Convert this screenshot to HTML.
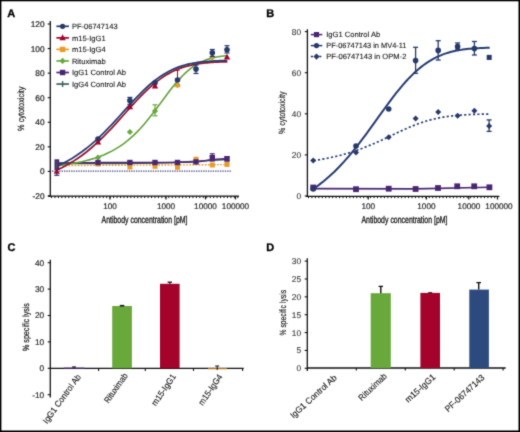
<!DOCTYPE html>
<html><head><meta charset="utf-8"><style>
html,body{margin:0;padding:0;background:#fff;width:520px;height:432px;overflow:hidden}
svg{display:block}
text{font-family:"Liberation Sans",sans-serif;text-rendering:geometricPrecision}
</style></head><body>
<svg width="520" height="432" viewBox="0 0 520 432" font-family="Liberation Sans, sans-serif">
<defs><filter id="soft" x="0" y="0" width="520" height="432" filterUnits="userSpaceOnUse" color-interpolation-filters="sRGB"><feConvolveMatrix order="3" kernelMatrix="0.025 0.09 0.025 0.09 0.54 0.09 0.025 0.09 0.025" edgeMode="duplicate"/></filter></defs>
<rect width="520" height="432" fill="#fff"/>
<g filter="url(#soft)">
<rect width="520" height="432" fill="#fff"/>
<rect x="0" y="0" width="520" height="1.3" fill="#000"/>
<rect x="0" y="0" width="1.4" height="432" fill="#000"/>
<rect x="518.5" y="0" width="1.5" height="432" fill="#000"/>
<rect x="0" y="430.5" width="520" height="1.5" fill="#000"/>
<text x="7.20" y="17.00" font-size="11.00" text-anchor="start" fill="#000" font-weight="bold" stroke="#000" stroke-width="0.3">A</text>
<text x="266.30" y="17.40" font-size="11.00" text-anchor="start" fill="#000" font-weight="bold" stroke="#000" stroke-width="0.3">B</text>
<text x="7.40" y="251.10" font-size="11.00" text-anchor="start" fill="#000" font-weight="bold" stroke="#000" stroke-width="0.3">C</text>
<text x="266.30" y="250.90" font-size="11.00" text-anchor="start" fill="#000" font-weight="bold" stroke="#000" stroke-width="0.3">D</text>
<line x1="50.30" y1="21.00" x2="50.30" y2="196.50" stroke="#111" stroke-width="1.30" />
<line x1="47.70" y1="24.00" x2="50.30" y2="24.00" stroke="#111" stroke-width="1.10" />
<text x="44.50" y="26.95" font-size="8.30" text-anchor="end" fill="#262626" font-weight="normal" stroke="#262626" stroke-width="0.22">120</text>
<line x1="47.70" y1="48.57" x2="50.30" y2="48.57" stroke="#111" stroke-width="1.10" />
<text x="44.50" y="51.52" font-size="8.30" text-anchor="end" fill="#262626" font-weight="normal" stroke="#262626" stroke-width="0.22">100</text>
<line x1="47.70" y1="73.14" x2="50.30" y2="73.14" stroke="#111" stroke-width="1.10" />
<text x="44.50" y="76.09" font-size="8.30" text-anchor="end" fill="#262626" font-weight="normal" stroke="#262626" stroke-width="0.22">80</text>
<line x1="47.70" y1="97.70" x2="50.30" y2="97.70" stroke="#111" stroke-width="1.10" />
<text x="44.50" y="100.65" font-size="8.30" text-anchor="end" fill="#262626" font-weight="normal" stroke="#262626" stroke-width="0.22">60</text>
<line x1="47.70" y1="122.27" x2="50.30" y2="122.27" stroke="#111" stroke-width="1.10" />
<text x="44.50" y="125.22" font-size="8.30" text-anchor="end" fill="#262626" font-weight="normal" stroke="#262626" stroke-width="0.22">40</text>
<line x1="47.70" y1="146.83" x2="50.30" y2="146.83" stroke="#111" stroke-width="1.10" />
<text x="44.50" y="149.78" font-size="8.30" text-anchor="end" fill="#262626" font-weight="normal" stroke="#262626" stroke-width="0.22">20</text>
<line x1="47.70" y1="171.40" x2="50.30" y2="171.40" stroke="#111" stroke-width="1.10" />
<text x="44.50" y="174.35" font-size="8.30" text-anchor="end" fill="#262626" font-weight="normal" stroke="#262626" stroke-width="0.22">0</text>
<line x1="47.70" y1="195.97" x2="50.30" y2="195.97" stroke="#111" stroke-width="1.10" />
<text x="44.50" y="198.92" font-size="8.30" text-anchor="end" fill="#262626" font-weight="normal" stroke="#262626" stroke-width="0.22">-20</text>
<line x1="48.00" y1="196.20" x2="239.00" y2="196.20" stroke="#111" stroke-width="1.30" />
<line x1="110.00" y1="196.20" x2="110.00" y2="199.40" stroke="#111" stroke-width="1.20" />
<line x1="166.00" y1="196.20" x2="166.00" y2="199.40" stroke="#111" stroke-width="1.20" />
<line x1="205.50" y1="196.20" x2="205.50" y2="199.40" stroke="#111" stroke-width="1.20" />
<line x1="235.50" y1="196.20" x2="235.50" y2="199.40" stroke="#111" stroke-width="1.20" />
<line x1="51.50" y1="196.20" x2="51.50" y2="198.10" stroke="#111" stroke-width="1.00" />
<line x1="54.95" y1="196.20" x2="54.95" y2="198.10" stroke="#111" stroke-width="1.00" />
<line x1="58.40" y1="196.20" x2="58.40" y2="198.10" stroke="#111" stroke-width="1.00" />
<line x1="61.85" y1="196.20" x2="61.85" y2="198.10" stroke="#111" stroke-width="1.00" />
<line x1="65.30" y1="196.20" x2="65.30" y2="198.10" stroke="#111" stroke-width="1.00" />
<line x1="68.75" y1="196.20" x2="68.75" y2="198.10" stroke="#111" stroke-width="1.00" />
<line x1="72.20" y1="196.20" x2="72.20" y2="198.10" stroke="#111" stroke-width="1.00" />
<line x1="75.65" y1="196.20" x2="75.65" y2="198.10" stroke="#111" stroke-width="1.00" />
<line x1="79.10" y1="196.20" x2="79.10" y2="198.10" stroke="#111" stroke-width="1.00" />
<line x1="82.55" y1="196.20" x2="82.55" y2="198.10" stroke="#111" stroke-width="1.00" />
<line x1="86.00" y1="196.20" x2="86.00" y2="198.10" stroke="#111" stroke-width="1.00" />
<line x1="89.45" y1="196.20" x2="89.45" y2="198.10" stroke="#111" stroke-width="1.00" />
<line x1="92.90" y1="196.20" x2="92.90" y2="198.10" stroke="#111" stroke-width="1.00" />
<line x1="96.35" y1="196.20" x2="96.35" y2="198.10" stroke="#111" stroke-width="1.00" />
<line x1="99.80" y1="196.20" x2="99.80" y2="198.10" stroke="#111" stroke-width="1.00" />
<line x1="103.25" y1="196.20" x2="103.25" y2="198.10" stroke="#111" stroke-width="1.00" />
<line x1="106.70" y1="196.20" x2="106.70" y2="198.10" stroke="#111" stroke-width="1.00" />
<line x1="110.15" y1="196.20" x2="110.15" y2="198.10" stroke="#111" stroke-width="1.00" />
<line x1="113.60" y1="196.20" x2="113.60" y2="198.10" stroke="#111" stroke-width="1.00" />
<line x1="117.05" y1="196.20" x2="117.05" y2="198.10" stroke="#111" stroke-width="1.00" />
<line x1="120.50" y1="196.20" x2="120.50" y2="198.10" stroke="#111" stroke-width="1.00" />
<line x1="123.95" y1="196.20" x2="123.95" y2="198.10" stroke="#111" stroke-width="1.00" />
<line x1="127.40" y1="196.20" x2="127.40" y2="198.10" stroke="#111" stroke-width="1.00" />
<line x1="130.85" y1="196.20" x2="130.85" y2="198.10" stroke="#111" stroke-width="1.00" />
<line x1="134.30" y1="196.20" x2="134.30" y2="198.10" stroke="#111" stroke-width="1.00" />
<line x1="137.75" y1="196.20" x2="137.75" y2="198.10" stroke="#111" stroke-width="1.00" />
<line x1="141.20" y1="196.20" x2="141.20" y2="198.10" stroke="#111" stroke-width="1.00" />
<line x1="144.65" y1="196.20" x2="144.65" y2="198.10" stroke="#111" stroke-width="1.00" />
<line x1="148.10" y1="196.20" x2="148.10" y2="198.10" stroke="#111" stroke-width="1.00" />
<line x1="151.55" y1="196.20" x2="151.55" y2="198.10" stroke="#111" stroke-width="1.00" />
<line x1="155.00" y1="196.20" x2="155.00" y2="198.10" stroke="#111" stroke-width="1.00" />
<line x1="158.45" y1="196.20" x2="158.45" y2="198.10" stroke="#111" stroke-width="1.00" />
<line x1="161.90" y1="196.20" x2="161.90" y2="198.10" stroke="#111" stroke-width="1.00" />
<line x1="165.35" y1="196.20" x2="165.35" y2="198.10" stroke="#111" stroke-width="1.00" />
<line x1="168.80" y1="196.20" x2="168.80" y2="198.10" stroke="#111" stroke-width="1.00" />
<line x1="172.25" y1="196.20" x2="172.25" y2="198.10" stroke="#111" stroke-width="1.00" />
<line x1="175.70" y1="196.20" x2="175.70" y2="198.10" stroke="#111" stroke-width="1.00" />
<line x1="179.15" y1="196.20" x2="179.15" y2="198.10" stroke="#111" stroke-width="1.00" />
<line x1="182.60" y1="196.20" x2="182.60" y2="198.10" stroke="#111" stroke-width="1.00" />
<line x1="186.05" y1="196.20" x2="186.05" y2="198.10" stroke="#111" stroke-width="1.00" />
<line x1="189.50" y1="196.20" x2="189.50" y2="198.10" stroke="#111" stroke-width="1.00" />
<line x1="192.95" y1="196.20" x2="192.95" y2="198.10" stroke="#111" stroke-width="1.00" />
<line x1="196.40" y1="196.20" x2="196.40" y2="198.10" stroke="#111" stroke-width="1.00" />
<line x1="199.85" y1="196.20" x2="199.85" y2="198.10" stroke="#111" stroke-width="1.00" />
<line x1="203.30" y1="196.20" x2="203.30" y2="198.10" stroke="#111" stroke-width="1.00" />
<line x1="206.75" y1="196.20" x2="206.75" y2="198.10" stroke="#111" stroke-width="1.00" />
<line x1="210.20" y1="196.20" x2="210.20" y2="198.10" stroke="#111" stroke-width="1.00" />
<line x1="213.65" y1="196.20" x2="213.65" y2="198.10" stroke="#111" stroke-width="1.00" />
<line x1="217.10" y1="196.20" x2="217.10" y2="198.10" stroke="#111" stroke-width="1.00" />
<line x1="220.55" y1="196.20" x2="220.55" y2="198.10" stroke="#111" stroke-width="1.00" />
<line x1="224.00" y1="196.20" x2="224.00" y2="198.10" stroke="#111" stroke-width="1.00" />
<line x1="227.45" y1="196.20" x2="227.45" y2="198.10" stroke="#111" stroke-width="1.00" />
<line x1="230.90" y1="196.20" x2="230.90" y2="198.10" stroke="#111" stroke-width="1.00" />
<line x1="234.35" y1="196.20" x2="234.35" y2="198.10" stroke="#111" stroke-width="1.00" />
<line x1="237.80" y1="196.20" x2="237.80" y2="198.10" stroke="#111" stroke-width="1.00" />
<text x="110.00" y="209.10" font-size="8.20" text-anchor="middle" fill="#2a2a2a" font-weight="normal" stroke="#2a2a2a" stroke-width="0.2">100</text>
<text x="166.00" y="209.10" font-size="8.20" text-anchor="middle" fill="#2a2a2a" font-weight="normal" stroke="#2a2a2a" stroke-width="0.2">1000</text>
<text x="205.50" y="209.10" font-size="8.20" text-anchor="middle" fill="#2a2a2a" font-weight="normal" stroke="#2a2a2a" stroke-width="0.2">10000</text>
<text x="235.50" y="209.10" font-size="8.20" text-anchor="middle" fill="#2a2a2a" font-weight="normal" stroke="#2a2a2a" stroke-width="0.2">100000</text>
<line x1="52" y1="171.2" x2="232" y2="171.2" stroke="#3a3f78" stroke-width="1.3" stroke-dasharray="1.3 1.1"/>
<path d="M56 165.6 L228 164.6" stroke="#e99b25" stroke-width="1.4" fill="none" stroke-dasharray="1.7 1.4"/>
<path d="M56.70 163.50 C73.08 163.42 126.62 163.67 155.00 163.00 C183.38 162.33 215.00 160.08 227.00 159.50" stroke="#3a5e5b" stroke-width="1.3" fill="none"/>
<path d="M56.70 163.00 C63.58 162.93 81.62 162.68 98.00 162.60 C114.38 162.52 141.67 162.53 155.00 162.50 C168.33 162.47 171.17 162.52 178.00 162.40 C184.83 162.28 190.33 162.23 196.00 161.80 C201.67 161.37 206.83 160.33 212.00 159.80 C217.17 159.27 224.50 158.80 227.00 158.60" stroke="#4a2672" stroke-width="1.5" fill="none"/>
<path d="M57.14 165.58 L62.32 164.96 L67.39 164.28 L72.33 163.50 L77.15 162.63 L81.86 161.66 L86.46 160.58 L90.94 159.37 L95.31 158.02 L99.58 156.53 L103.74 154.89 L107.80 153.08 L111.76 151.10 L115.63 148.93 L119.39 146.58 L123.07 144.04 L126.65 141.32 L130.15 138.41 L133.56 135.33 L136.88 132.08 L140.13 128.68 L143.29 125.16 L146.38 121.54 L149.39 117.83 L152.33 114.09 L155.20 110.32 L158.00 106.57 L160.73 102.87 L163.41 99.25 L166.02 95.73 L168.57 92.34 L171.06 89.09 L173.51 86.01 L175.90 83.11 L178.24 80.39 L180.53 77.86 L182.78 75.51 L184.98 73.35 L187.15 71.37 L189.27 69.56 L191.36 67.92 L193.42 66.44 L195.44 65.10 L197.44 63.89 L199.41 62.81 L201.36 61.84 L203.28 60.97 L205.18 60.20 L207.07 59.51 L208.94 58.90 L210.79 58.36 L212.64 57.88 L214.48 57.46 L216.31 57.08 L218.14 56.75 L219.96 56.46 L221.79 56.20 L223.62 55.97 L225.45 55.77 L227.30 55.59" stroke="#62a03a" stroke-width="1.6" fill="none"/>
<path d="M57.14 169.98 L62.32 167.48 L67.39 164.78 L72.33 161.87 L77.15 158.76 L81.86 155.45 L86.46 151.94 L90.94 148.26 L95.31 144.42 L99.58 140.45 L103.74 136.38 L107.80 132.22 L111.76 128.03 L115.63 123.82 L119.39 119.65 L123.07 115.53 L126.65 111.50 L130.15 107.59 L133.56 103.83 L136.88 100.23 L140.13 96.82 L143.29 93.60 L146.38 90.59 L149.39 87.78 L152.33 85.18 L155.20 82.79 L158.00 80.59 L160.73 78.59 L163.41 76.76 L166.02 75.11 L168.57 73.62 L171.06 72.27 L173.51 71.06 L175.90 69.98 L178.24 69.01 L180.53 68.14 L182.78 67.37 L184.98 66.69 L187.15 66.08 L189.27 65.54 L191.36 65.06 L193.42 64.63 L195.44 64.26 L197.44 63.92 L199.41 63.63 L201.36 63.37 L203.28 63.14 L205.18 62.94 L207.07 62.76 L208.94 62.60 L210.79 62.47 L212.64 62.34 L214.48 62.24 L216.31 62.14 L218.14 62.06 L219.96 61.98 L221.79 61.92 L223.62 61.86 L225.45 61.81 L227.30 61.77" stroke="#951532" stroke-width="1.75" fill="none"/>
<path d="M57.14 166.17 L62.32 163.71 L67.39 161.04 L72.33 158.17 L77.15 155.08 L81.86 151.80 L86.46 148.32 L90.94 144.66 L95.31 140.85 L99.58 136.90 L103.74 132.85 L107.80 128.72 L111.76 124.55 L115.63 120.38 L119.39 116.24 L123.07 112.17 L126.65 108.20 L130.15 104.35 L133.56 100.65 L136.88 97.13 L140.13 93.80 L143.29 90.66 L146.38 87.74 L149.39 85.02 L152.33 82.52 L155.20 80.21 L158.00 78.11 L160.73 76.20 L163.41 74.46 L166.02 72.89 L168.57 71.48 L171.06 70.21 L173.51 69.08 L175.90 68.07 L178.24 67.16 L180.53 66.36 L182.78 65.64 L184.98 65.01 L187.15 64.45 L189.27 63.95 L191.36 63.51 L193.42 63.12 L195.44 62.78 L197.44 62.48 L199.41 62.21 L201.36 61.98 L203.28 61.77 L205.18 61.59 L207.07 61.43 L208.94 61.29 L210.79 61.17 L212.64 61.06 L214.48 60.97 L216.31 60.88 L218.14 60.81 L219.96 60.74 L221.79 60.69 L223.62 60.64 L225.45 60.59 L227.30 60.56" stroke="#263d72" stroke-width="1.75" fill="none"/>
<line x1="56.80" y1="160.00" x2="56.80" y2="175.30" stroke="#4a2672" stroke-width="1.20" />
<line x1="54.30" y1="175.30" x2="59.30" y2="175.30" stroke="#26396b" stroke-width="1.20" />
<rect x="54.5" y="159.3" width="4.7" height="10.7" fill="#4a2672"/>
<line x1="56.80" y1="161.00" x2="56.80" y2="169.00" stroke="#3a5e5b" stroke-width="1.20" />
<path d="M56.80 168.24 L59.88 173.84 L53.72 173.84 Z" fill="#a4032c"/>
<circle cx="98.00" cy="139.00" r="2.80" fill="#26396b"/>
<path d="M98.00 138.82 L101.19 144.62 L94.81 144.62 Z" fill="#a4032c"/>
<path d="M98.00 154.40 L101.10 157.50 L98.00 160.60 L94.90 157.50 Z" fill="#69a83b"/>
<rect x="95.50" y="161.50" width="5.00" height="5.00" fill="#e99b25"/>
<rect x="95.30" y="159.80" width="5.40" height="5.40" fill="#4a2672"/>
<line x1="129.90" y1="97.40" x2="129.90" y2="104.30" stroke="#26396b" stroke-width="1.20" />
<line x1="127.40" y1="97.40" x2="132.40" y2="97.40" stroke="#26396b" stroke-width="1.20" />
<line x1="127.40" y1="104.30" x2="132.40" y2="104.30" stroke="#26396b" stroke-width="1.20" />
<circle cx="129.90" cy="100.60" r="2.80" fill="#26396b"/>
<path d="M129.90 103.52 L133.09 109.32 L126.71 109.32 Z" fill="#a4032c"/>
<path d="M129.90 128.90 L133.00 132.00 L129.90 135.10 L126.80 132.00 Z" fill="#69a83b"/>
<rect x="127.40" y="164.50" width="5.00" height="5.00" fill="#e99b25"/>
<rect x="127.20" y="159.80" width="5.40" height="5.40" fill="#4a2672"/>
<circle cx="155.00" cy="82.80" r="2.80" fill="#26396b"/>
<path d="M155.00 82.82 L158.19 88.62 L151.81 88.62 Z" fill="#a4032c"/>
<line x1="155.00" y1="104.80" x2="155.00" y2="115.80" stroke="#69a83b" stroke-width="1.20" />
<line x1="152.50" y1="104.80" x2="157.50" y2="104.80" stroke="#69a83b" stroke-width="1.20" />
<line x1="152.50" y1="115.80" x2="157.50" y2="115.80" stroke="#69a83b" stroke-width="1.20" />
<path d="M155.00 107.90 L158.10 111.00 L155.00 114.10 L151.90 111.00 Z" fill="#69a83b"/>
<rect x="152.50" y="163.80" width="5.00" height="5.00" fill="#e99b25"/>
<rect x="152.30" y="159.80" width="5.40" height="5.40" fill="#4a2672"/>
<line x1="177.50" y1="70.20" x2="177.50" y2="80.00" stroke="#a4032c" stroke-width="1.00" />
<line x1="175.30" y1="70.20" x2="179.70" y2="70.20" stroke="#a4032c" stroke-width="1.00" />
<path d="M177.50 81.90 L180.60 85.00 L177.50 88.10 L174.40 85.00 Z" fill="#69a83b"/>
<path d="M177.50 81.52 L180.69 87.32 L174.31 87.32 Z" fill="#e99b25"/>
<circle cx="177.50" cy="80.00" r="2.80" fill="#26396b"/>
<rect x="175.00" y="164.80" width="5.00" height="5.00" fill="#e99b25"/>
<rect x="174.80" y="159.80" width="5.40" height="5.40" fill="#4a2672"/>
<line x1="196.00" y1="65.00" x2="196.00" y2="73.50" stroke="#26396b" stroke-width="1.20" />
<line x1="193.50" y1="65.00" x2="198.50" y2="65.00" stroke="#26396b" stroke-width="1.20" />
<line x1="193.50" y1="73.50" x2="198.50" y2="73.50" stroke="#26396b" stroke-width="1.20" />
<circle cx="196.00" cy="69.10" r="2.80" fill="#26396b"/>
<rect x="193.50" y="156.70" width="5.00" height="5.00" fill="#e99b25"/>
<rect x="193.30" y="159.20" width="5.40" height="5.40" fill="#4a2672"/>
<path d="M212.30 54.20 L215.40 57.30 L212.30 60.40 L209.20 57.30 Z" fill="#69a83b"/>
<rect x="210.55" y="55.55" width="3.50" height="3.50" fill="#e99b25"/>
<line x1="212.30" y1="49.50" x2="212.30" y2="56.50" stroke="#26396b" stroke-width="1.20" />
<line x1="209.80" y1="49.50" x2="214.80" y2="49.50" stroke="#26396b" stroke-width="1.20" />
<line x1="209.80" y1="56.50" x2="214.80" y2="56.50" stroke="#26396b" stroke-width="1.20" />
<circle cx="212.30" cy="52.70" r="2.80" fill="#26396b"/>
<rect x="209.80" y="162.50" width="5.00" height="5.00" fill="#e99b25"/>
<line x1="212.30" y1="153.80" x2="212.30" y2="161.00" stroke="#4a2672" stroke-width="1.20" />
<line x1="209.80" y1="153.80" x2="214.80" y2="153.80" stroke="#4a2672" stroke-width="1.20" />
<line x1="209.80" y1="161.00" x2="214.80" y2="161.00" stroke="#4a2672" stroke-width="1.20" />
<rect x="209.60" y="155.00" width="5.40" height="5.40" fill="#4a2672"/>
<path d="M227.00 53.72 L230.19 59.52 L223.81 59.52 Z" fill="#a4032c"/>
<line x1="227.00" y1="45.70" x2="227.00" y2="53.00" stroke="#26396b" stroke-width="1.20" />
<line x1="224.50" y1="45.70" x2="229.50" y2="45.70" stroke="#26396b" stroke-width="1.20" />
<line x1="224.50" y1="53.00" x2="229.50" y2="53.00" stroke="#26396b" stroke-width="1.20" />
<circle cx="227.00" cy="49.80" r="2.80" fill="#26396b"/>
<rect x="224.50" y="161.90" width="5.00" height="5.00" fill="#e99b25"/>
<line x1="227.00" y1="156.70" x2="227.00" y2="161.00" stroke="#4a2672" stroke-width="1.20" />
<line x1="224.50" y1="156.70" x2="229.50" y2="156.70" stroke="#4a2672" stroke-width="1.20" />
<line x1="224.50" y1="161.00" x2="229.50" y2="161.00" stroke="#4a2672" stroke-width="1.20" />
<rect x="224.30" y="156.00" width="5.40" height="5.40" fill="#4a2672"/>
<line x1="56.40" y1="26.30" x2="68.90" y2="26.30" stroke="#26396b" stroke-width="1.70" />
<circle cx="62.60" cy="26.30" r="2.60" fill="#26396b"/>
<text x="71.90" y="29.10" font-size="7.60" text-anchor="start" fill="#1a1a1a" font-weight="normal" textLength="45.7" lengthAdjust="spacingAndGlyphs" stroke="#1a1a1a" stroke-width="0.12">PF-06747143</text>
<line x1="56.40" y1="37.85" x2="68.90" y2="37.85" stroke="#a4032c" stroke-width="1.70" />
<path d="M62.60 34.37 L65.79 40.17 L59.41 40.17 Z" fill="#a4032c"/>
<text x="71.90" y="40.65" font-size="7.60" text-anchor="start" fill="#1a1a1a" font-weight="normal" stroke="#1a1a1a" stroke-width="0.12">m15-IgG1</text>
<line x1="56.40" y1="49.40" x2="68.90" y2="49.40" stroke="#e99b25" stroke-width="1.70" />
<rect x="59.90" y="46.70" width="5.40" height="5.40" fill="#e99b25"/>
<text x="71.90" y="52.20" font-size="7.60" text-anchor="start" fill="#1a1a1a" font-weight="normal" stroke="#1a1a1a" stroke-width="0.12">m15-IgG4</text>
<line x1="56.40" y1="60.95" x2="68.90" y2="60.95" stroke="#69a83b" stroke-width="1.70" />
<path d="M62.60 57.85 L65.70 60.95 L62.60 64.05 L59.50 60.95 Z" fill="#69a83b"/>
<text x="71.90" y="63.75" font-size="7.60" text-anchor="start" fill="#1a1a1a" font-weight="normal" stroke="#1a1a1a" stroke-width="0.12">Rituximab</text>
<line x1="56.40" y1="72.50" x2="68.90" y2="72.50" stroke="#4a2672" stroke-width="1.70" />
<rect x="59.90" y="69.80" width="5.40" height="5.40" fill="#4a2672"/>
<text x="71.90" y="75.30" font-size="7.60" text-anchor="start" fill="#1a1a1a" font-weight="normal" stroke="#1a1a1a" stroke-width="0.12">IgG1 Control Ab</text>
<line x1="56.40" y1="84.05" x2="68.90" y2="84.05" stroke="#3a5e5b" stroke-width="1.70" />
<line x1="62.60" y1="81.05" x2="62.60" y2="87.05" stroke="#3a5e5b" stroke-width="1.40" />
<text x="71.90" y="86.85" font-size="7.60" text-anchor="start" fill="#1a1a1a" font-weight="normal" stroke="#1a1a1a" stroke-width="0.12">IgG4 Control Ab</text>
<line x1="307.40" y1="29.20" x2="307.40" y2="196.80" stroke="#111" stroke-width="1.30" />
<line x1="304.80" y1="31.60" x2="307.40" y2="31.60" stroke="#111" stroke-width="1.10" />
<text x="301.00" y="34.55" font-size="8.30" text-anchor="end" fill="#333" font-weight="normal" stroke="#333" stroke-width="0.10">80</text>
<line x1="304.80" y1="72.70" x2="307.40" y2="72.70" stroke="#111" stroke-width="1.10" />
<text x="301.00" y="75.65" font-size="8.30" text-anchor="end" fill="#333" font-weight="normal" stroke="#333" stroke-width="0.10">60</text>
<line x1="304.80" y1="113.80" x2="307.40" y2="113.80" stroke="#111" stroke-width="1.10" />
<text x="301.00" y="116.75" font-size="8.30" text-anchor="end" fill="#333" font-weight="normal" stroke="#333" stroke-width="0.10">40</text>
<line x1="304.80" y1="154.90" x2="307.40" y2="154.90" stroke="#111" stroke-width="1.10" />
<text x="301.00" y="157.85" font-size="8.30" text-anchor="end" fill="#333" font-weight="normal" stroke="#333" stroke-width="0.10">20</text>
<line x1="304.80" y1="196.00" x2="307.40" y2="196.00" stroke="#111" stroke-width="1.10" />
<text x="301.00" y="198.95" font-size="8.30" text-anchor="end" fill="#333" font-weight="normal" stroke="#333" stroke-width="0.10">0</text>
<line x1="306.00" y1="196.30" x2="499.40" y2="196.30" stroke="#111" stroke-width="1.30" />
<line x1="368.30" y1="196.30" x2="368.30" y2="199.50" stroke="#111" stroke-width="1.20" />
<line x1="426.40" y1="196.30" x2="426.40" y2="199.50" stroke="#111" stroke-width="1.20" />
<line x1="468.80" y1="196.30" x2="468.80" y2="199.50" stroke="#111" stroke-width="1.20" />
<line x1="497.50" y1="196.30" x2="497.50" y2="199.50" stroke="#111" stroke-width="1.20" />
<line x1="308.50" y1="196.30" x2="308.50" y2="198.20" stroke="#111" stroke-width="1.00" />
<line x1="311.95" y1="196.30" x2="311.95" y2="198.20" stroke="#111" stroke-width="1.00" />
<line x1="315.40" y1="196.30" x2="315.40" y2="198.20" stroke="#111" stroke-width="1.00" />
<line x1="318.85" y1="196.30" x2="318.85" y2="198.20" stroke="#111" stroke-width="1.00" />
<line x1="322.30" y1="196.30" x2="322.30" y2="198.20" stroke="#111" stroke-width="1.00" />
<line x1="325.75" y1="196.30" x2="325.75" y2="198.20" stroke="#111" stroke-width="1.00" />
<line x1="329.20" y1="196.30" x2="329.20" y2="198.20" stroke="#111" stroke-width="1.00" />
<line x1="332.65" y1="196.30" x2="332.65" y2="198.20" stroke="#111" stroke-width="1.00" />
<line x1="336.10" y1="196.30" x2="336.10" y2="198.20" stroke="#111" stroke-width="1.00" />
<line x1="339.55" y1="196.30" x2="339.55" y2="198.20" stroke="#111" stroke-width="1.00" />
<line x1="343.00" y1="196.30" x2="343.00" y2="198.20" stroke="#111" stroke-width="1.00" />
<line x1="346.45" y1="196.30" x2="346.45" y2="198.20" stroke="#111" stroke-width="1.00" />
<line x1="349.90" y1="196.30" x2="349.90" y2="198.20" stroke="#111" stroke-width="1.00" />
<line x1="353.35" y1="196.30" x2="353.35" y2="198.20" stroke="#111" stroke-width="1.00" />
<line x1="356.80" y1="196.30" x2="356.80" y2="198.20" stroke="#111" stroke-width="1.00" />
<line x1="360.25" y1="196.30" x2="360.25" y2="198.20" stroke="#111" stroke-width="1.00" />
<line x1="363.70" y1="196.30" x2="363.70" y2="198.20" stroke="#111" stroke-width="1.00" />
<line x1="367.15" y1="196.30" x2="367.15" y2="198.20" stroke="#111" stroke-width="1.00" />
<line x1="370.60" y1="196.30" x2="370.60" y2="198.20" stroke="#111" stroke-width="1.00" />
<line x1="374.05" y1="196.30" x2="374.05" y2="198.20" stroke="#111" stroke-width="1.00" />
<line x1="377.50" y1="196.30" x2="377.50" y2="198.20" stroke="#111" stroke-width="1.00" />
<line x1="380.95" y1="196.30" x2="380.95" y2="198.20" stroke="#111" stroke-width="1.00" />
<line x1="384.40" y1="196.30" x2="384.40" y2="198.20" stroke="#111" stroke-width="1.00" />
<line x1="387.85" y1="196.30" x2="387.85" y2="198.20" stroke="#111" stroke-width="1.00" />
<line x1="391.30" y1="196.30" x2="391.30" y2="198.20" stroke="#111" stroke-width="1.00" />
<line x1="394.75" y1="196.30" x2="394.75" y2="198.20" stroke="#111" stroke-width="1.00" />
<line x1="398.20" y1="196.30" x2="398.20" y2="198.20" stroke="#111" stroke-width="1.00" />
<line x1="401.65" y1="196.30" x2="401.65" y2="198.20" stroke="#111" stroke-width="1.00" />
<line x1="405.10" y1="196.30" x2="405.10" y2="198.20" stroke="#111" stroke-width="1.00" />
<line x1="408.55" y1="196.30" x2="408.55" y2="198.20" stroke="#111" stroke-width="1.00" />
<line x1="412.00" y1="196.30" x2="412.00" y2="198.20" stroke="#111" stroke-width="1.00" />
<line x1="415.45" y1="196.30" x2="415.45" y2="198.20" stroke="#111" stroke-width="1.00" />
<line x1="418.90" y1="196.30" x2="418.90" y2="198.20" stroke="#111" stroke-width="1.00" />
<line x1="422.35" y1="196.30" x2="422.35" y2="198.20" stroke="#111" stroke-width="1.00" />
<line x1="425.80" y1="196.30" x2="425.80" y2="198.20" stroke="#111" stroke-width="1.00" />
<line x1="429.25" y1="196.30" x2="429.25" y2="198.20" stroke="#111" stroke-width="1.00" />
<line x1="432.70" y1="196.30" x2="432.70" y2="198.20" stroke="#111" stroke-width="1.00" />
<line x1="436.15" y1="196.30" x2="436.15" y2="198.20" stroke="#111" stroke-width="1.00" />
<line x1="439.60" y1="196.30" x2="439.60" y2="198.20" stroke="#111" stroke-width="1.00" />
<line x1="443.05" y1="196.30" x2="443.05" y2="198.20" stroke="#111" stroke-width="1.00" />
<line x1="446.50" y1="196.30" x2="446.50" y2="198.20" stroke="#111" stroke-width="1.00" />
<line x1="449.95" y1="196.30" x2="449.95" y2="198.20" stroke="#111" stroke-width="1.00" />
<line x1="453.40" y1="196.30" x2="453.40" y2="198.20" stroke="#111" stroke-width="1.00" />
<line x1="456.85" y1="196.30" x2="456.85" y2="198.20" stroke="#111" stroke-width="1.00" />
<line x1="460.30" y1="196.30" x2="460.30" y2="198.20" stroke="#111" stroke-width="1.00" />
<line x1="463.75" y1="196.30" x2="463.75" y2="198.20" stroke="#111" stroke-width="1.00" />
<line x1="467.20" y1="196.30" x2="467.20" y2="198.20" stroke="#111" stroke-width="1.00" />
<line x1="470.65" y1="196.30" x2="470.65" y2="198.20" stroke="#111" stroke-width="1.00" />
<line x1="474.10" y1="196.30" x2="474.10" y2="198.20" stroke="#111" stroke-width="1.00" />
<line x1="477.55" y1="196.30" x2="477.55" y2="198.20" stroke="#111" stroke-width="1.00" />
<line x1="481.00" y1="196.30" x2="481.00" y2="198.20" stroke="#111" stroke-width="1.00" />
<line x1="484.45" y1="196.30" x2="484.45" y2="198.20" stroke="#111" stroke-width="1.00" />
<line x1="487.90" y1="196.30" x2="487.90" y2="198.20" stroke="#111" stroke-width="1.00" />
<line x1="491.35" y1="196.30" x2="491.35" y2="198.20" stroke="#111" stroke-width="1.00" />
<line x1="494.80" y1="196.30" x2="494.80" y2="198.20" stroke="#111" stroke-width="1.00" />
<text x="368.30" y="209.10" font-size="8.20" text-anchor="middle" fill="#2a2a2a" font-weight="normal" stroke="#2a2a2a" stroke-width="0.2">100</text>
<text x="426.40" y="209.10" font-size="8.20" text-anchor="middle" fill="#2a2a2a" font-weight="normal" stroke="#2a2a2a" stroke-width="0.2">1000</text>
<text x="469.00" y="209.10" font-size="8.20" text-anchor="middle" fill="#2a2a2a" font-weight="normal" stroke="#2a2a2a" stroke-width="0.2">10000</text>
<text x="499.00" y="209.10" font-size="8.20" text-anchor="middle" fill="#2a2a2a" font-weight="normal" stroke="#2a2a2a" stroke-width="0.2">100000</text>
<path d="M313.60 160.63 L318.99 159.78 L324.25 158.86 L329.38 157.85 L334.39 156.75 L339.28 155.57 L344.04 154.30 L348.70 152.95 L353.23 151.52 L357.66 150.01 L361.97 148.44 L366.18 146.80 L370.29 145.12 L374.29 143.41 L378.19 141.68 L381.99 139.93 L385.70 138.20 L389.32 136.49 L392.84 134.81 L396.28 133.18 L399.64 131.62 L402.91 130.11 L406.10 128.69 L409.21 127.34 L412.25 126.08 L415.21 124.91 L418.10 123.82 L420.93 122.82 L423.68 121.90 L426.38 121.06 L429.01 120.29 L431.59 119.60 L434.11 118.97 L436.57 118.41 L438.98 117.91 L441.35 117.45 L443.67 117.05 L445.94 116.69 L448.17 116.36 L450.37 116.08 L452.52 115.82 L454.64 115.60 L456.73 115.40 L458.79 115.22 L460.83 115.07 L462.83 114.93 L464.82 114.81 L466.78 114.70 L468.73 114.60 L470.67 114.52 L472.59 114.45 L474.50 114.38 L476.40 114.32 L478.30 114.27 L480.19 114.23 L482.08 114.19 L483.98 114.16 L485.88 114.13 L487.78 114.10 L489.70 114.08" stroke="#263d72" stroke-width="1.7" fill="none" stroke-dasharray="2.2 2.2"/>
<path d="M313.60 188.74 L318.99 184.87 L324.25 180.73 L329.38 176.32 L334.39 171.66 L339.28 166.76 L344.04 161.65 L348.70 156.35 L353.23 150.91 L357.66 145.35 L361.97 139.73 L366.18 134.08 L370.29 128.45 L374.29 122.89 L378.19 117.43 L381.99 112.12 L385.70 106.99 L389.32 102.08 L392.84 97.39 L396.28 92.96 L399.64 88.80 L402.91 84.91 L406.10 81.29 L409.21 77.94 L412.25 74.87 L415.21 72.05 L418.10 69.47 L420.93 67.13 L423.68 65.01 L426.38 63.09 L429.01 61.36 L431.59 59.81 L434.11 58.42 L436.57 57.17 L438.98 56.06 L441.35 55.06 L443.67 54.18 L445.94 53.39 L448.17 52.69 L450.37 52.07 L452.52 51.52 L454.64 51.03 L456.73 50.59 L458.79 50.21 L460.83 49.87 L462.83 49.57 L464.82 49.31 L466.78 49.07 L468.73 48.86 L470.67 48.68 L472.59 48.52 L474.50 48.38 L476.40 48.25 L478.30 48.14 L480.19 48.04 L482.08 47.96 L483.98 47.88 L485.88 47.81 L487.78 47.75 L489.70 47.70" stroke="#263d72" stroke-width="2.0" fill="none"/>
<path d="M313.2 188.6 L415 188.9 L489.4 187.3" stroke="#4a2672" stroke-width="1.6" fill="none"/>
<rect x="310.30" y="184.60" width="5.80" height="5.80" fill="#4a2672"/>
<rect x="353.10" y="186.30" width="5.80" height="5.80" fill="#4a2672"/>
<rect x="385.80" y="185.80" width="5.80" height="5.80" fill="#4a2672"/>
<rect x="412.70" y="186.10" width="5.80" height="5.80" fill="#4a2672"/>
<rect x="435.10" y="185.10" width="5.80" height="5.80" fill="#4a2672"/>
<rect x="454.30" y="183.40" width="5.80" height="5.80" fill="#4a2672"/>
<rect x="471.30" y="183.40" width="5.80" height="5.80" fill="#4a2672"/>
<rect x="486.50" y="184.40" width="5.80" height="5.80" fill="#4a2672"/>
<circle cx="313.20" cy="189.00" r="2.80" fill="#26396b"/>
<path d="M313.20 157.40 L316.20 160.40 L313.20 163.40 L310.20 160.40 Z" fill="#26396b"/>
<circle cx="356.00" cy="146.00" r="2.80" fill="#26396b"/>
<path d="M356.00 149.60 L359.00 152.60 L356.00 155.60 L353.00 152.60 Z" fill="#26396b"/>
<circle cx="388.70" cy="109.00" r="2.80" fill="#26396b"/>
<path d="M388.70 134.30 L391.70 137.30 L388.70 140.30 L385.70 137.30 Z" fill="#26396b"/>
<line x1="415.60" y1="47.30" x2="415.60" y2="73.30" stroke="#26396b" stroke-width="1.30" />
<line x1="413.10" y1="47.30" x2="418.10" y2="47.30" stroke="#26396b" stroke-width="1.30" />
<line x1="413.10" y1="73.30" x2="418.10" y2="73.30" stroke="#26396b" stroke-width="1.30" />
<circle cx="415.60" cy="60.60" r="2.80" fill="#26396b"/>
<path d="M415.60 115.60 L418.60 118.60 L415.60 121.60 L412.60 118.60 Z" fill="#26396b"/>
<line x1="438.20" y1="40.70" x2="438.20" y2="60.00" stroke="#26396b" stroke-width="1.30" />
<line x1="435.70" y1="40.70" x2="440.70" y2="40.70" stroke="#26396b" stroke-width="1.30" />
<line x1="435.70" y1="60.00" x2="440.70" y2="60.00" stroke="#26396b" stroke-width="1.30" />
<circle cx="438.20" cy="50.40" r="2.80" fill="#26396b"/>
<path d="M438.20 109.00 L441.20 112.00 L438.20 115.00 L435.20 112.00 Z" fill="#26396b"/>
<line x1="457.60" y1="43.00" x2="457.60" y2="49.10" stroke="#26396b" stroke-width="1.30" />
<line x1="455.10" y1="43.00" x2="460.10" y2="43.00" stroke="#26396b" stroke-width="1.30" />
<line x1="455.10" y1="49.10" x2="460.10" y2="49.10" stroke="#26396b" stroke-width="1.30" />
<circle cx="457.60" cy="46.60" r="2.80" fill="#26396b"/>
<path d="M457.60 112.80 L460.60 115.80 L457.60 118.80 L454.60 115.80 Z" fill="#26396b"/>
<line x1="474.40" y1="41.50" x2="474.40" y2="55.00" stroke="#26396b" stroke-width="1.30" />
<line x1="471.90" y1="41.50" x2="476.90" y2="41.50" stroke="#26396b" stroke-width="1.30" />
<line x1="471.90" y1="55.00" x2="476.90" y2="55.00" stroke="#26396b" stroke-width="1.30" />
<circle cx="474.40" cy="48.60" r="2.80" fill="#26396b"/>
<path d="M474.40 107.70 L477.40 110.70 L474.40 113.70 L471.40 110.70 Z" fill="#26396b"/>
<line x1="489.10" y1="55.50" x2="489.10" y2="59.00" stroke="#26396b" stroke-width="1.10" />
<line x1="487.10" y1="55.50" x2="491.10" y2="55.50" stroke="#26396b" stroke-width="1.10" />
<line x1="487.10" y1="59.00" x2="491.10" y2="59.00" stroke="#26396b" stroke-width="1.10" />
<rect x="486.70" y="54.90" width="5.00" height="5.00" fill="#26396b"/>
<line x1="489.10" y1="119.90" x2="489.10" y2="131.40" stroke="#26396b" stroke-width="1.30" />
<line x1="486.60" y1="119.90" x2="491.60" y2="119.90" stroke="#26396b" stroke-width="1.30" />
<line x1="486.60" y1="131.40" x2="491.60" y2="131.40" stroke="#26396b" stroke-width="1.30" />
<path d="M489.10 123.00 L492.10 126.00 L489.10 129.00 L486.10 126.00 Z" fill="#26396b"/>
<line x1="310.80" y1="34.60" x2="322.30" y2="34.60" stroke="#4a2672" stroke-width="1.50" />
<rect x="313.90" y="32.00" width="5.20" height="5.20" fill="#4a2672"/>
<text x="326.20" y="37.40" font-size="7.60" text-anchor="start" fill="#1a1a1a" font-weight="normal" stroke="#1a1a1a" stroke-width="0.12">IgG1 Control Ab</text>
<line x1="310.80" y1="45.60" x2="322.30" y2="45.60" stroke="#26396b" stroke-width="1.50" />
<circle cx="316.50" cy="45.60" r="2.60" fill="#26396b"/>
<text x="326.20" y="48.40" font-size="7.60" text-anchor="start" fill="#1a1a1a" font-weight="normal" textLength="80.3" lengthAdjust="spacingAndGlyphs" stroke="#1a1a1a" stroke-width="0.12">PF-06747143 in MV4-11</text>
<line x1="310.8" y1="56.60" x2="322.3" y2="56.60" stroke="#26396b" stroke-width="1.5" stroke-dasharray="2.2 2"/>
<path d="M316.50 53.50 L319.60 56.60 L316.50 59.70 L313.40 56.60 Z" fill="#26396b"/>
<text x="326.20" y="59.40" font-size="7.60" text-anchor="start" fill="#1a1a1a" font-weight="normal" stroke="#1a1a1a" stroke-width="0.12">PF-06747143 in OPM-2</text>
<line x1="50.30" y1="259.70" x2="50.30" y2="397.50" stroke="#111" stroke-width="1.30" />
<line x1="47.70" y1="262.70" x2="50.30" y2="262.70" stroke="#111" stroke-width="1.10" />
<text x="44.20" y="265.65" font-size="8.30" text-anchor="end" fill="#2a2a2a" font-weight="normal" stroke="#2a2a2a" stroke-width="0.18">40</text>
<line x1="47.70" y1="289.10" x2="50.30" y2="289.10" stroke="#111" stroke-width="1.10" />
<text x="44.20" y="292.05" font-size="8.30" text-anchor="end" fill="#2a2a2a" font-weight="normal" stroke="#2a2a2a" stroke-width="0.18">30</text>
<line x1="47.70" y1="315.50" x2="50.30" y2="315.50" stroke="#111" stroke-width="1.10" />
<text x="44.20" y="318.45" font-size="8.30" text-anchor="end" fill="#2a2a2a" font-weight="normal" stroke="#2a2a2a" stroke-width="0.18">20</text>
<line x1="47.70" y1="341.90" x2="50.30" y2="341.90" stroke="#111" stroke-width="1.10" />
<text x="44.20" y="344.85" font-size="8.30" text-anchor="end" fill="#2a2a2a" font-weight="normal" stroke="#2a2a2a" stroke-width="0.18">10</text>
<line x1="47.70" y1="368.30" x2="50.30" y2="368.30" stroke="#111" stroke-width="1.10" />
<text x="44.20" y="371.25" font-size="8.30" text-anchor="end" fill="#2a2a2a" font-weight="normal" stroke="#2a2a2a" stroke-width="0.18">0</text>
<line x1="47.70" y1="394.70" x2="50.30" y2="394.70" stroke="#111" stroke-width="1.10" />
<text x="44.20" y="397.65" font-size="8.30" text-anchor="end" fill="#2a2a2a" font-weight="normal" stroke="#2a2a2a" stroke-width="0.18">-10</text>
<line x1="50.00" y1="368.30" x2="243.70" y2="368.30" stroke="#111" stroke-width="1.30" />
<line x1="98.60" y1="368.30" x2="98.60" y2="370.90" stroke="#111" stroke-width="1.10" />
<line x1="145.30" y1="368.30" x2="145.30" y2="370.90" stroke="#111" stroke-width="1.10" />
<line x1="193.50" y1="368.30" x2="193.50" y2="370.90" stroke="#111" stroke-width="1.10" />
<line x1="242.60" y1="368.30" x2="242.60" y2="370.90" stroke="#111" stroke-width="1.10" />
<rect x="112.2" y="306.0" width="19.7" height="62.3" fill="#69a83b"/>
<rect x="160.0" y="283.8" width="19.6" height="84.5" fill="#a4032c"/>
<rect x="63.8" y="367.6" width="20.5" height="1.2" fill="#4a2672"/>
<rect x="208.0" y="368.3" width="19" height="1.0" fill="#e99b25"/>
<line x1="122.05" y1="305.40" x2="122.05" y2="306.00" stroke="#111" stroke-width="1.00" />
<line x1="119.85" y1="305.40" x2="124.25" y2="305.40" stroke="#111" stroke-width="1.00" />
<line x1="119.85" y1="306.00" x2="124.25" y2="306.00" stroke="#111" stroke-width="1.00" />
<line x1="169.80" y1="282.20" x2="169.80" y2="283.80" stroke="#111" stroke-width="1.30" />
<line x1="167.60" y1="282.20" x2="172.00" y2="282.20" stroke="#111" stroke-width="1.30" />
<line x1="74.00" y1="367.00" x2="74.00" y2="368.30" stroke="#111" stroke-width="1.00" />
<line x1="72.00" y1="366.90" x2="76.00" y2="366.90" stroke="#111" stroke-width="1.00" />
<line x1="217.20" y1="366.00" x2="217.20" y2="370.00" stroke="#111" stroke-width="1.00" />
<line x1="215.20" y1="366.00" x2="219.20" y2="366.00" stroke="#111" stroke-width="1.00" />
<line x1="307.30" y1="258.20" x2="307.30" y2="371.00" stroke="#111" stroke-width="1.30" />
<line x1="304.70" y1="261.11" x2="307.30" y2="261.11" stroke="#111" stroke-width="1.10" />
<text x="301.00" y="264.06" font-size="8.30" text-anchor="end" fill="#333" font-weight="normal" stroke="#333" stroke-width="0.10">30</text>
<line x1="304.70" y1="278.98" x2="307.30" y2="278.98" stroke="#111" stroke-width="1.10" />
<text x="301.00" y="281.93" font-size="8.30" text-anchor="end" fill="#333" font-weight="normal" stroke="#333" stroke-width="0.10">25</text>
<line x1="304.70" y1="296.84" x2="307.30" y2="296.84" stroke="#111" stroke-width="1.10" />
<text x="301.00" y="299.79" font-size="8.30" text-anchor="end" fill="#333" font-weight="normal" stroke="#333" stroke-width="0.10">20</text>
<line x1="304.70" y1="314.71" x2="307.30" y2="314.71" stroke="#111" stroke-width="1.10" />
<text x="301.00" y="317.66" font-size="8.30" text-anchor="end" fill="#333" font-weight="normal" stroke="#333" stroke-width="0.10">15</text>
<line x1="304.70" y1="332.57" x2="307.30" y2="332.57" stroke="#111" stroke-width="1.10" />
<text x="301.00" y="335.52" font-size="8.30" text-anchor="end" fill="#333" font-weight="normal" stroke="#333" stroke-width="0.10">10</text>
<line x1="304.70" y1="350.44" x2="307.30" y2="350.44" stroke="#111" stroke-width="1.10" />
<text x="301.00" y="353.38" font-size="8.30" text-anchor="end" fill="#333" font-weight="normal" stroke="#333" stroke-width="0.10">5</text>
<line x1="304.70" y1="368.30" x2="307.30" y2="368.30" stroke="#111" stroke-width="1.10" />
<text x="301.00" y="371.25" font-size="8.30" text-anchor="end" fill="#333" font-weight="normal" stroke="#333" stroke-width="0.10">0</text>
<line x1="307.00" y1="368.00" x2="505.70" y2="368.00" stroke="#111" stroke-width="1.30" />
<line x1="356.30" y1="368.00" x2="356.30" y2="370.60" stroke="#111" stroke-width="1.10" />
<line x1="405.30" y1="368.00" x2="405.30" y2="370.60" stroke="#111" stroke-width="1.10" />
<line x1="454.20" y1="368.00" x2="454.20" y2="370.60" stroke="#111" stroke-width="1.10" />
<line x1="503.10" y1="368.00" x2="503.10" y2="370.60" stroke="#111" stroke-width="1.10" />
<rect x="370.7" y="293.2" width="20.1" height="74.8" fill="#69a83b"/>
<rect x="420.4" y="292.9" width="19.6" height="75.1" fill="#a4032c"/>
<rect x="469.3" y="289.6" width="19.6" height="78.4" fill="#2d4a7e"/>
<line x1="380.80" y1="286.40" x2="380.80" y2="293.20" stroke="#111" stroke-width="1.40" />
<line x1="378.60" y1="286.40" x2="383.00" y2="286.40" stroke="#111" stroke-width="1.30" />
<line x1="430.20" y1="292.60" x2="430.20" y2="292.90" stroke="#111" stroke-width="1.00" />
<line x1="428.20" y1="292.60" x2="432.20" y2="292.60" stroke="#111" stroke-width="0.90" />
<line x1="478.70" y1="282.60" x2="478.70" y2="289.60" stroke="#111" stroke-width="1.40" />
<line x1="476.40" y1="282.60" x2="481.00" y2="282.60" stroke="#111" stroke-width="1.30" />
<text transform="translate(81.30 377.00) rotate(-54.05)" font-size="8.80" text-anchor="end" fill="#1e1e1e" stroke="#1e1e1e" stroke-width="0.15" textLength="58.28" lengthAdjust="spacingAndGlyphs">IgG1 Control Ab</text>
<text transform="translate(128.08 375.70) rotate(-55.11)" font-size="8.80" text-anchor="end" fill="#1e1e1e" stroke="#1e1e1e" stroke-width="0.15" textLength="34.29" lengthAdjust="spacingAndGlyphs">Rituximab</text>
<text transform="translate(176.44 376.42) rotate(-55.60)" font-size="8.80" text-anchor="end" fill="#1e1e1e" stroke="#1e1e1e" stroke-width="0.15" textLength="36.55" lengthAdjust="spacingAndGlyphs">m15-IgG1</text>
<text transform="translate(222.80 376.80) rotate(-55.58)" font-size="8.80" text-anchor="end" fill="#1e1e1e" stroke="#1e1e1e" stroke-width="0.15" textLength="35.44" lengthAdjust="spacingAndGlyphs">m15-IgG4</text>
<text transform="translate(337.44 378.52) rotate(-42.39)" font-size="8.80" text-anchor="end" fill="#1e1e1e" stroke="#1e1e1e" stroke-width="0.15" textLength="59.67" lengthAdjust="spacingAndGlyphs">IgG1 Control Ab</text>
<text transform="translate(387.38 376.94) rotate(-43.52)" font-size="8.80" text-anchor="end" fill="#1e1e1e" stroke="#1e1e1e" stroke-width="0.15" textLength="35.24" lengthAdjust="spacingAndGlyphs">Rituximab</text>
<text transform="translate(436.08 377.94) rotate(-42.20)" font-size="8.80" text-anchor="end" fill="#1e1e1e" stroke="#1e1e1e" stroke-width="0.15" textLength="37.43" lengthAdjust="spacingAndGlyphs">m15-IgG1</text>
<text transform="translate(485.08 378.46) rotate(-42.79)" font-size="8.80" text-anchor="end" fill="#1e1e1e" stroke="#1e1e1e" stroke-width="0.15" textLength="50.13" lengthAdjust="spacingAndGlyphs">PF-06747143</text>
<text transform="translate(144.50 223.04) rotate(0)" font-size="9.80" text-anchor="middle" fill="#222" stroke="#222" stroke-width="0.35" textLength="85.95" lengthAdjust="spacingAndGlyphs">Antibody concentration [pM]</text>
<text transform="translate(404.46 223.00) rotate(0)" font-size="9.80" text-anchor="middle" fill="#222" stroke="#222" stroke-width="0.35" textLength="86.04" lengthAdjust="spacingAndGlyphs">Antibody concentration [pM]</text>
<text transform="translate(23.90 108.73) rotate(-90)" font-size="9.00" text-anchor="middle" fill="#222" stroke="#222" stroke-width="0.20" textLength="44.36" lengthAdjust="spacingAndGlyphs">% cytotoxicity</text>
<text transform="translate(285.00 112.67) rotate(-90)" font-size="9.00" text-anchor="middle" fill="#222" stroke="#222" stroke-width="0.18" textLength="42.45" lengthAdjust="spacingAndGlyphs">% cytotoxicity</text>
<text transform="translate(28.70 327.04) rotate(-90)" font-size="9.00" text-anchor="middle" fill="#222" stroke="#222" stroke-width="0.25" textLength="47.86" lengthAdjust="spacingAndGlyphs">% specific lysis</text>
<text transform="translate(285.60 312.71) rotate(-90)" font-size="9.00" text-anchor="middle" fill="#222" stroke="#222" stroke-width="0.18" textLength="45.43" lengthAdjust="spacingAndGlyphs">% specific lysis</text>
</g>
</svg>
</body></html>
